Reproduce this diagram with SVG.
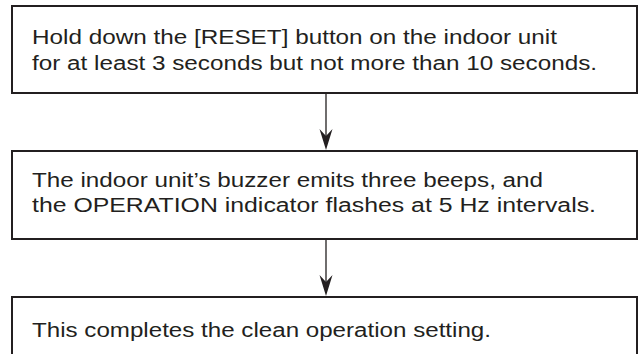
<svg xmlns="http://www.w3.org/2000/svg" width="640" height="354" viewBox="0 0 640 354">
<style>
.box{fill:#fff;stroke:#231f20;stroke-width:2}
.t{font-family:"Liberation Sans",Arial,sans-serif;font-size:20px;fill:#231f20}
.c{stroke:#231f20;stroke-width:1.3;fill:none}
.ah{fill:#231f20}
</style>
<rect width="640" height="354" fill="#fff"/>
<g id="n1">
<rect class="box" x="12" y="6" width="625" height="87"/>
<text class="t" x="32" y="44" textLength="525" lengthAdjust="spacingAndGlyphs">Hold down the [RESET] button on the indoor unit</text>
<text class="t" x="32" y="70" textLength="565" lengthAdjust="spacingAndGlyphs">for at least 3 seconds but not more than 10 seconds.</text>
</g>
<g id="n2">
<rect class="box" x="12" y="151" width="625" height="88"/>
<text class="t" x="32" y="187" textLength="511" lengthAdjust="spacingAndGlyphs">The indoor unit’s buzzer emits three beeps, and</text>
<text class="t" x="32" y="212" textLength="564" lengthAdjust="spacingAndGlyphs">the OPERATION indicator flashes at 5 Hz intervals.</text>
</g>
<g id="n3">
<rect class="box" x="12" y="297" width="625" height="70"/>
<text class="t" x="32" y="337" textLength="459" lengthAdjust="spacingAndGlyphs">This completes the clean operation setting.</text>
</g>
<g id="connectors">
<line class="c" x1="326" y1="94" x2="326" y2="140"/>
<path class="ah" d="M326,150 L319.5,129 L326,136 L332.5,129 Z"/>
<line class="c" x1="326" y1="240" x2="326" y2="285"/>
<path class="ah" d="M326,296 L319.5,275 L326,282 L332.5,275 Z"/>
</g>
</svg>
